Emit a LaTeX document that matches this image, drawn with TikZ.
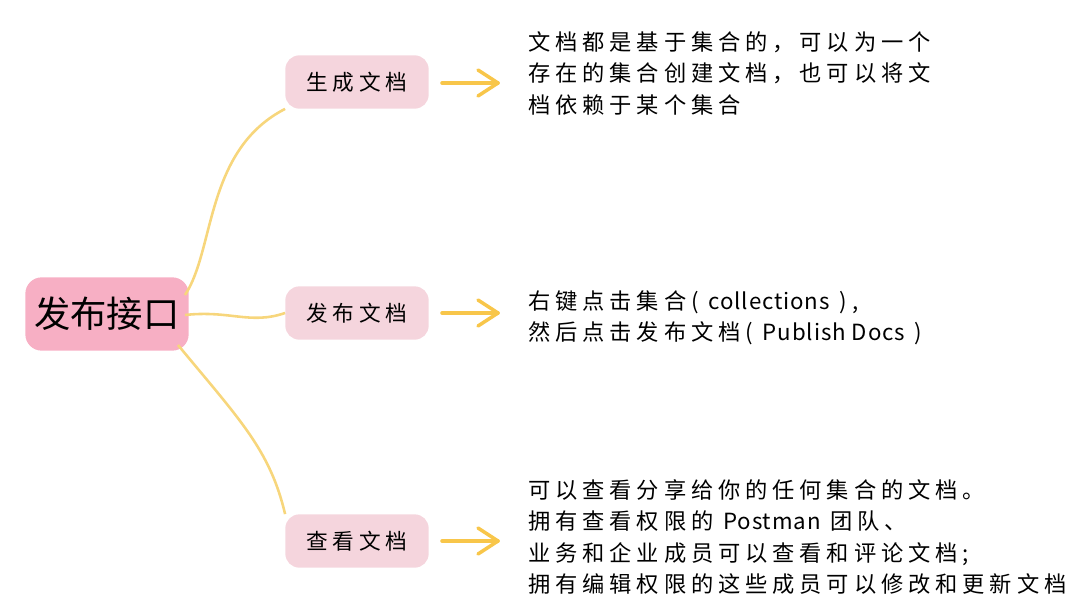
\documentclass[tikz,border=0pt]{standalone}
\usepackage{fontspec}
\newfontfamily\cjk{Noto Sans CJK SC}
\newfontfamily\cjksp[LetterSpace=22]{Noto Sans CJK SC}
\newcommand\latn[1]{{\cjk\addfontfeature{LetterSpace=4}#1}}
\definecolor{rootpink}{HTML}{F7AFC4}
\definecolor{leafpink}{HTML}{F5D5DD}
\definecolor{ylw}{HTML}{F7D67C}
\definecolor{arr}{HTML}{F8C64A}
\begin{document}
\begin{tikzpicture}[x=0.03cm,y=-0.03cm,
  leaf/.style={fill=leafpink,rounded corners=12pt,inner sep=0pt,minimum width=4.3cm,minimum height=1.6cm,font=\cjksp\fontsize{18.5}{20}\selectfont},
  link/.style={draw=ylw,line width=2.2pt},
  arrw/.style={draw=arr,line width=3pt,line cap=round,line join=round},
  txt/.style={anchor=north west,align=left,font=\cjksp\fontsize{19}{27}\selectfont,inner sep=0pt}]
\useasboundingbox (0,0) rectangle (1082,613);
\node[fill=rootpink,rounded corners=14pt,minimum width=4.9cm,minimum height=2.2cm,font=\cjk\fontsize{31}{34}\selectfont] (root) at (107,314) {发布接口};
\node[leaf] (a) at (357,82) {生成文档};
\node[leaf] (b) at (357,313) {发布文档};
\node[leaf] (c) at (357,541) {查看文档};
\draw[link] (185,295) .. controls (215,250) and (205,150) .. (a.south west);
\draw[link] (185,315) .. controls (230,310) and (250,325) .. (b.west);
\draw[link] (178,345) .. controls (240,420) and (270,450) .. (c.north west);
\foreach \n/\y in {p/83,q/313,r/541}{
  \coordinate (\n1) at (442,\y); \coordinate (\n2) at (498,\y);
  \draw[arrw] (\n1) -- (\n2);
  \draw[arrw] ([shift={(-20,-13)}]\n2) -- (\n2) -- ([shift={(-20,13)}]\n2);
}
\node[txt] (ta) at (528,31) {文档都是基于集合的，可以为一个\\存在的集合创建文档，也可以将文\\档依赖于某个集合};
\node[txt] (tb) at (528,290) {右键点击集合( \latn{collections} ),\\然后点击发布文档( \latn{Publish Docs} )};
\node[txt] (tc) at (528,479) {可以查看分享给你的任何集合的文档。\\拥有查看权限的 \latn{Postman} 团队、\\业务和企业成员可以查看和评论文档;\\拥有编辑权限的这些成员可以修改和更新文档};
\end{tikzpicture}
\end{document}
